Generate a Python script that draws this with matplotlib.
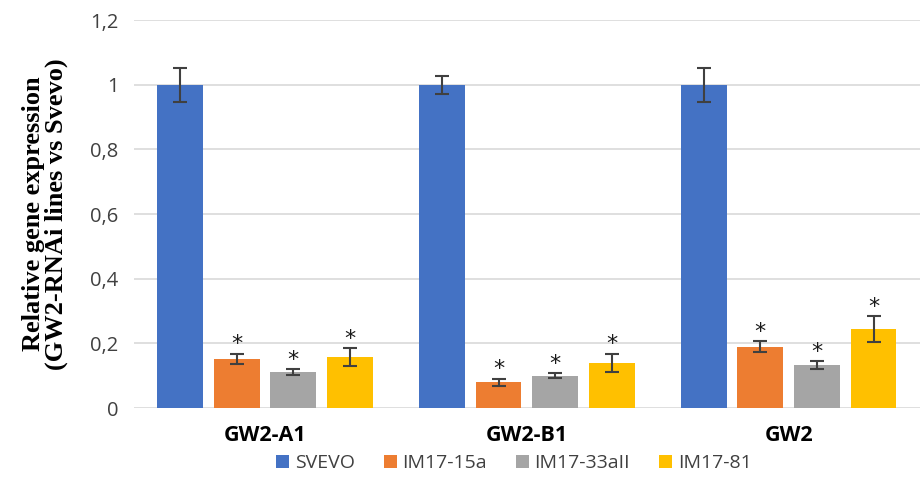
import numpy as np
import matplotlib.pyplot as plt
from matplotlib.ticker import FuncFormatter

genes = ['GW2-A1', 'GW2-B1', 'GW2']
lines = ['SVEVO', 'IM17-15a', 'IM17-33aII', 'IM17-81']
colors = ['#4472C4', '#ED7D31', '#A5A5A5', '#FFC000']

# relative expression per line, one entry per gene
svevo = [1.0, 1.0, 1.0]
im17_15a = [0.152, 0.080, 0.190]
im17_33a = [0.111, 0.100, 0.133]
im17_81 = [0.158, 0.140, 0.245]

svevo_err = [0.053, 0.028, 0.052]
im17_15a_err = [0.016, 0.011, 0.017]
im17_33a_err = [0.009, 0.008, 0.012]
im17_81_err = [0.027, 0.028, 0.040]

# significance marks (False for the control)
signif = [False, True, True, True]

values = [svevo, im17_15a, im17_33a, im17_81]
errors = [svevo_err, im17_15a_err, im17_33a_err, im17_81_err]

fig = plt.figure(figsize=(9.21, 4.91), dpi=100)
ax = fig.add_axes([0.1455, 0.169, 0.853, 0.79])

x = np.arange(len(genes))
width = 0.175
step = 0.216
offsets = (np.arange(len(lines)) - 1.5) * step

for i, name in enumerate(lines):
    pos = x + offsets[i]
    ax.bar(pos, values[i], width, color=colors[i], label=name, zorder=3)
    ax.errorbar(pos, values[i], yerr=errors[i], fmt='none', ecolor='#404040',
                elinewidth=1.5, capsize=5, capthick=1.5, zorder=4)
    if signif[i]:
        for p, v, e in zip(pos, values[i], errors[i]):
            ax.text(p, v + e - 0.002, '*', ha='center', va='bottom',
                    fontsize=16, color='#1a1a1a', zorder=5)

ax.set_xlim(-0.5, 2.5)
ax.set_ylim(0, 1.2)
ax.set_yticks(np.arange(0, 1.21, 0.2))
ax.yaxis.set_major_formatter(FuncFormatter(
    lambda v, _: '0' if abs(v) < 1e-9 else ('1' if abs(v - 1) < 1e-9 else f'{v:.1f}'.replace('.', ','))))
ax.set_xticks(x)
ax.set_xticklabels(genes, fontsize=15.5, fontweight='bold', family='Open Sans')
for lab in ax.get_yticklabels():
    lab.set_family('Open Sans')
    lab.set_fontsize(14.5)
    lab.set_color('#404040')
ax.tick_params(axis='y', length=0, pad=11)
ax.tick_params(axis='x', length=0, pad=12)

ax.grid(axis='y', color='#D9D9D9', linewidth=1.2, zorder=0)
for s in ax.spines.values():
    s.set_visible(False)

ax.set_ylabel('Relative gene expression\n(GW2-RNAi lines vs Svevo)',
              family='Liberation Serif', fontweight='bold', fontsize=19,
              labelpad=16, linespacing=0.98)

leg = fig.legend(loc='center', bbox_to_anchor=(0.558, 0.057), ncol=4, frameon=False,
                 handlelength=0.65, handleheight=0.65, handletextpad=0.3,
                 columnspacing=1.5, prop={'family': 'Open Sans', 'size': 14})
for t in leg.get_texts():
    t.set_color('#404040')

fig.savefig('out.png', dpi=100)
